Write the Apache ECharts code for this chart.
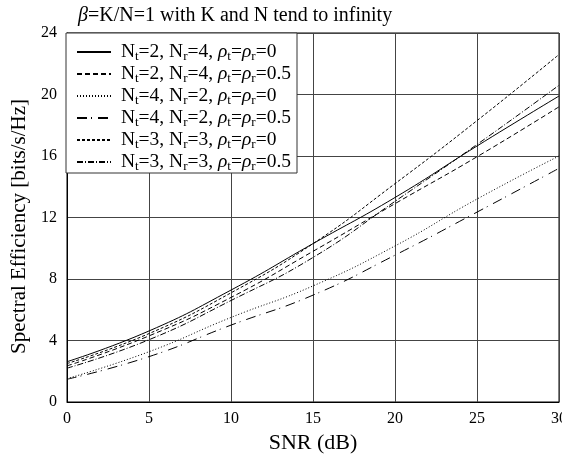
<!DOCTYPE html>
<html>
<head>
<meta charset="utf-8">
<script src="https://cdn.jsdelivr.net/npm/echarts@6/dist/echarts.min.js"></script>
<style>html,body{margin:0;padding:0;background:#fff}#c{width:562px;height:458px}</style>
</head>
<body>
<div id="c"></div>
<script>
var snr = [0, 5, 10, 15, 20, 25, 30];
var xTicks = [0, 5, 10, 15, 20, 25, 30];
var yTicks = [0, 4, 8, 12, 16, 20, 24];
var seriesNames = [
  ' N{s|t}=2, N{s|r}=4, {i|ρ}{s|t}={i|ρ}{s|r}=0',
  ' N{s|t}=2, N{s|r}=4, {i|ρ}{s|t}={i|ρ}{s|r}=0.5',
  ' N{s|t}=4, N{s|r}=2, {i|ρ}{s|t}={i|ρ}{s|r}=0',
  ' N{s|t}=4, N{s|r}=2, {i|ρ}{s|t}={i|ρ}{s|r}=0.5',
  ' N{s|t}=3, N{s|r}=3, {i|ρ}{s|t}={i|ρ}{s|r}=0',
  ' N{s|t}=3, N{s|r}=3, {i|ρ}{s|t}={i|ρ}{s|r}=0.5'
];
var nt2nr4r0   = [2.62, 4.62, 7.28, 10.3, 13.3, 16.65, 19.9];
var nt2nr4r05  = [2.35, 4.3, 6.8, 9.8, 12.9, 15.95, 19.2];
var nt4nr2r0   = [1.52, 3.27, 5.5, 7.55, 10.15, 13.2, 16.0];
var nt4nr2r05  = [1.48, 2.95, 5.0, 6.95, 9.55, 12.35, 15.2];
var nt3nr3r0   = [2.5, 4.45, 7.1, 10.3, 14.2, 18.3, 22.6];
var nt3nr3r05  = [2.2, 4.05, 6.6, 9.4, 13.05, 16.75, 20.6];

var dataSets = [nt2nr4r0, nt2nr4r05, nt4nr2r0, nt4nr2r05, nt3nr3r0, nt3nr3r05];
var dashTypes = ['solid', [5, 3], [1, 2], [10, 4, 1, 6], [3, 2], [6, 2, 1, 2]];

var font = 'Liberation Serif';
var chart = echarts.init(document.getElementById('c'));
var series = dataSets.map(function (d, k) {
  return {
    name: seriesNames[k],
    type: 'line',
    smooth: true,
    symbol: 'none',
    data: snr.map(function (x, i) { return [x, d[i]]; }),
    lineStyle: { color: '#000', width: 1, type: dashTypes[k] },
    itemStyle: { color: '#000' },
    z: 5
  };
});
chart.setOption({
  animation: false,
  backgroundColor: '#fff',
  title: {
    text: '{i|β}=K/N=1 with K and N tend to infinity',
    left: 78, top: 6, padding: 0,
    textStyle: {
      fontFamily: font, fontSize: 20, fontWeight: 'normal', color: '#000',
      rich: { i: { fontFamily: font, fontStyle: 'italic', fontSize: 20, color: '#000' } }
    }
  },
  grid: { left: 67, right: 3, top: 33, bottom: 56, show: true, borderColor: '#000', borderWidth: 1,
    containLabel: false, outerBoundsMode: 'none' },
  legend: {
    orient: 'vertical', left: 66, top: 33,
    backgroundColor: '#fff', borderColor: '#333', borderWidth: 1, borderRadius: 0,
    padding: [8, 6, 0, 10],
    itemWidth: 34, itemHeight: 14, itemGap: 0,
    itemStyle: { color: 'transparent', borderColor: 'transparent', borderWidth: 0, opacity: 0 },
    textStyle: {
      fontFamily: font, fontSize: 19.5, color: '#000', lineHeight: 22,
      rich: {
        s: { fontFamily: font, fontSize: 13, color: '#000', lineHeight: 13, verticalAlign: 'bottom' },
        i: { fontFamily: font, fontSize: 19.5, fontStyle: 'italic', color: '#000', lineHeight: 22 }
      }
    },
    data: seriesNames
  },
  xAxis: {
    type: 'value', min: 0, max: 30, interval: 5,
    name: 'SNR (dB)', nameLocation: 'middle', nameGap: 26,
    nameTextStyle: { fontFamily: font, fontSize: 22, color: '#000' },
    axisLine: { lineStyle: { color: '#000' } },
    axisTick: { show: false },
    axisLabel: { fontFamily: font, fontSize: 16, color: '#000', margin: 9, alignMaxLabel: 'center', alignMinLabel: 'center', hideOverlap: false,
      formatter: function (v) { return xTicks.indexOf(v) >= 0 ? String(v) : ''; } },
    splitLine: { show: true, lineStyle: { color: '#444', width: 1 } }
  },
  yAxis: {
    type: 'value', min: 0, max: 24, interval: 4,
    name: 'Spectral Efficiency [bits/s/Hz]', nameLocation: 'middle', nameGap: 35,
    nameTextStyle: { fontFamily: font, fontSize: 21, color: '#000', padding: [0, 18, 0, 0] },
    axisLine: { show: true, lineStyle: { color: '#000' } },
    axisTick: { show: false },
    axisLabel: { fontFamily: font, fontSize: 16, color: '#000', margin: 10,
      formatter: function (v) { return yTicks.indexOf(v) >= 0 ? String(v) : ''; } },
    splitLine: { show: true, lineStyle: { color: '#444', width: 1 } }
  },
  series: series
});
</script>
</body>
</html>
